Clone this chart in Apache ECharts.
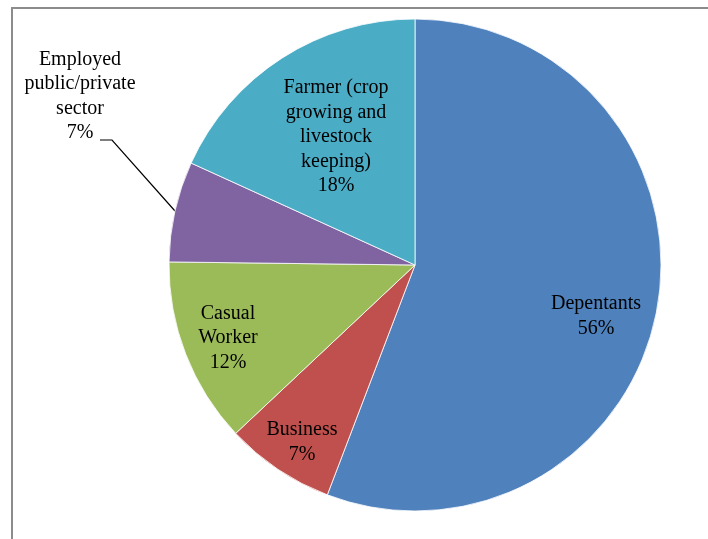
<!DOCTYPE html>
<html>
<head>
<meta charset="utf-8">
<script src="https://cdn.jsdelivr.net/npm/echarts@6/dist/echarts.min.js"></script>
<style>
html,body{margin:0;padding:0;background:#fff;}
#chart{width:708px;height:539px;}
</style>
</head>
<body>
<div id="chart"></div>
<script>
// Data
var categories = ['Depentants', 'Business', 'Casual\nWorker', 'Employed\npublic/private\nsector', 'Farmer (crop\ngrowing and\nlivestock\nkeeping)'];
var values = [55.8, 7.2, 12.2, 6.6, 18.2];
var colors = ['#4F81BD', '#C0504D', '#9BBB59', '#8064A2', '#4BACC6'];

// Label placement (layout only)
var labelPos = [[596, 316], [302, 442], [228, 338], [80, 96], [336, 137]];
var employedLine = [[175, 211], [112, 140], [100, 140]];

var chart = echarts.init(document.getElementById('chart'), null, {renderer: 'canvas'});
var dataItems = categories.map(function (c, i) {
  var item = {name: c, value: values[i], itemStyle: {color: colors[i]}};
  if (i === 3) {
    item.label = {position: 'outside'};
    item.labelLine = {show: true};
  }
  return item;
});

chart.setOption({
  animation: false,
  backgroundColor: '#fff',
  graphic: [{
    type: 'rect',
    shape: {x: 12, y: 8, width: 800, height: 600},
    style: {fill: 'none', stroke: '#8c8c8c', lineWidth: 2},
    silent: true
  }],
  series: [{
    type: 'pie',
    center: [415, 265],
    radius: [0, 246],
    startAngle: 90,
    clockwise: true,
    avoidLabelOverlap: false,
    itemStyle: {borderColor: '#fff', borderWidth: 0.8},
    label: {
      show: true,
      position: 'inside',
      color: '#000',
      fontFamily: '"Liberation Serif", "Times New Roman", serif',
      fontSize: 20,
      lineHeight: 24.5,
      align: 'center',
      formatter: function (p) {
        return p.name + '\n' + Math.round(p.percent) + '%';
      }
    },
    labelLine: {show: false, lineStyle: {color: '#000', width: 1.2}},
    labelLayout: function (p) {
      var pos = labelPos[p.dataIndex];
      var r = {x: pos[0], y: pos[1], align: 'center', verticalAlign: 'middle'};
      if (p.dataIndex === 3) r.labelLinePoints = employedLine;
      return r;
    },
    data: dataItems
  }]
});
</script>
</body>
</html>
